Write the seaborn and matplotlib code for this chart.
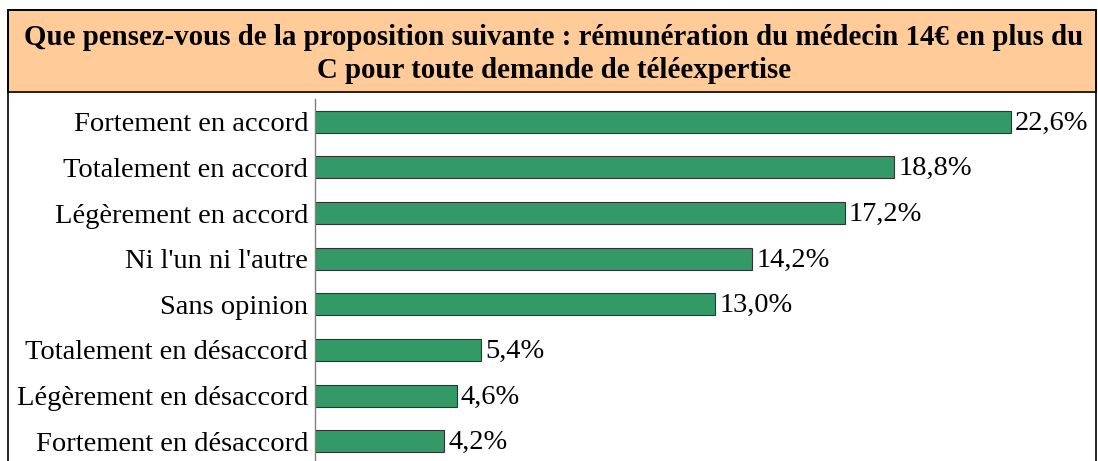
import matplotlib
matplotlib.use("Agg")
import matplotlib.pyplot as plt
import seaborn as sns
import pandas as pd
from matplotlib.patches import Rectangle

# =====================================================
# DATA
# =====================================================

categories = [
    "Fortement en accord",
    "Totalement en accord",
    "Légèrement en accord",
    "Ni l'un ni l'autre",
    "Sans opinion",
    "Totalement en désaccord",
    "Légèrement en désaccord",
    "Fortement en désaccord",
]

values = [22.6, 18.8, 17.2, 14.2, 13.0, 5.4, 4.6, 4.2]

value_labels = ["22,6%", "18,8%", "17,2%", "14,2%", "13,0%", "5,4%", "4,6%", "4,2%"]

title = ("Que pensez-vous de la proposition suivante : rémunération du médecin 14€ en plus du\n"
         "C pour toute demande de téléexpertise")

df = pd.DataFrame({"categorie": categories, "valeur": values})

# =====================================================
# FIGURE
# =====================================================

sns.set_style("white")
plt.rcParams["font.family"] = ["Liberation Serif", "DejaVu Serif"]

W, H = 1098, 461
fig = plt.figure(figsize=(W / 100, H / 100), dpi=100)

# title band and outer frame
fig.patches.append(Rectangle((8 / W, 1 - 92 / H), 1088 / W, 82 / H,
                             transform=fig.transFigure, facecolor="#FFCC99",
                             edgecolor="black", linewidth=1.2, zorder=0))
fig.patches.append(Rectangle((8 / W, -0.05), 1088 / W, 1 - 10 / H + 0.05,
                             transform=fig.transFigure, facecolor="none",
                             edgecolor="black", linewidth=1.2, zorder=5))

fig.text(554 / W, 1 - 54 / H, title, ha="center", va="center",
         fontsize=20.8, fontweight="bold", linespacing=1.3, color="black")

ax = fig.add_axes([315 / W, -3 / H, 775 / W, 365 / H])
ax.patch.set_alpha(0)

sns.barplot(data=df, x="valeur", y="categorie", ax=ax, color="#339966",
            edgecolor="#333333", linewidth=0.8, width=0.48, saturation=1)

for i, (v, lab) in enumerate(zip(values, value_labels)):
    ax.annotate(lab, (v, i), xytext=(3, -1), textcoords="offset points",
                va="center", ha="left", fontsize=20.5, color="black")

ax.set_xlim(0, 775 / 30.8)
ax.set_ylim(7.5, -0.5)
ax.set_xlabel("")
ax.set_ylabel("")
ax.set_xticks([])
ax.tick_params(axis="y", length=0, pad=5, labelsize=20.5, labelcolor="black")
for s in ["top", "right", "bottom"]:
    ax.spines[s].set_visible(False)
ax.spines["left"].set_color("#808080")
ax.spines["left"].set_linewidth(1)

fig.savefig("out.png", dpi=100)
